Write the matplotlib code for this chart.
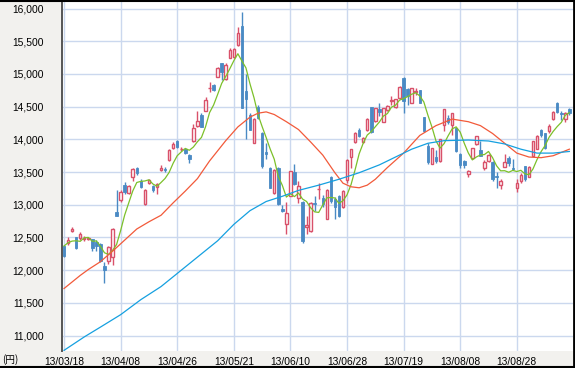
import matplotlib
matplotlib.use("Agg")
import matplotlib.pyplot as plt
from matplotlib.lines import Line2D

# ---------------- data ----------------
dates = [
    "13/03/18", "13/03/19", "13/03/21", "13/03/22", "13/03/25", "13/03/26", "13/03/27", "13/03/28", "13/03/29",
    "13/04/01", "13/04/02", "13/04/03", "13/04/04", "13/04/05", "13/04/08", "13/04/09", "13/04/10", "13/04/11",
    "13/04/12", "13/04/15", "13/04/16", "13/04/17", "13/04/18", "13/04/19", "13/04/22", "13/04/23", "13/04/24",
    "13/04/25", "13/04/26", "13/04/30", "13/05/01", "13/05/02", "13/05/07", "13/05/08", "13/05/09", "13/05/10",
    "13/05/13", "13/05/14", "13/05/15", "13/05/16", "13/05/17", "13/05/20", "13/05/21", "13/05/22", "13/05/23",
    "13/05/24", "13/05/27", "13/05/28", "13/05/29", "13/05/30", "13/05/31", "13/06/03", "13/06/04", "13/06/05",
    "13/06/06", "13/06/07", "13/06/10", "13/06/11", "13/06/12", "13/06/13", "13/06/14", "13/06/17", "13/06/18",
    "13/06/19", "13/06/20", "13/06/21", "13/06/24", "13/06/25", "13/06/26", "13/06/27", "13/06/28", "13/07/01",
    "13/07/02", "13/07/03", "13/07/04", "13/07/05", "13/07/08", "13/07/09", "13/07/10", "13/07/11", "13/07/12",
    "13/07/16", "13/07/17", "13/07/18", "13/07/19", "13/07/22", "13/07/23", "13/07/24", "13/07/25", "13/07/26",
    "13/07/29", "13/07/30", "13/07/31", "13/08/01", "13/08/02", "13/08/05", "13/08/06", "13/08/07", "13/08/08",
    "13/08/09", "13/08/12", "13/08/13", "13/08/14", "13/08/15", "13/08/16", "13/08/19", "13/08/20", "13/08/21",
    "13/08/22", "13/08/23", "13/08/26", "13/08/27", "13/08/28", "13/08/29", "13/08/30", "13/09/02", "13/09/03",
    "13/09/04", "13/09/05", "13/09/06", "13/09/09", "13/09/10", "13/09/11", "13/09/12", "13/09/13", "13/09/17",
]

opens = [
    12370, 12410, 12600, 12500, 12490, 12475, 12480, 12470, 12430, 12400, 12070, 12140, 12200, 12890, 13070,
    13310, 13180, 13430, 13560, 13360, 13015, 13330, 13280, 13270, 13530, 13545, 13680, 13870, 13975, 13850,
    13850, 13760, 13970, 14200, 14380, 14440, 14780, 14830, 14960, 15160, 14920, 15250, 15260, 15440, 15740,
    14740, 14370, 13950, 14490, 14090, 13810, 13560, 13180, 13560, 12940, 12710, 13140, 13500, 13100, 13050,
    12660, 12600, 13030, 13235, 13100, 12790, 13420, 13090, 13140, 12965, 13380, 13730, 13965, 14150, 13965,
    14146, 14490, 14283, 14470, 14273, 14453, 14590, 14490, 14634, 14933, 14763, 14557, 14730, 14747, 14335,
    13899, 13631, 13732, 13662, 14222, 14323, 14222, 14172, 13778, 13667, 13465, 13717, 13934, 13843, 13556,
    13667, 13652, 13435, 13310, 13580, 13712, 13560, 13250, 13364, 13590, 13424, 13747, 13860, 14146, 14095,
    14121, 14313, 14550, 14410, 14313, 14459,
]

highs = [
    12390, 12500, 12660, 12510, 12590, 12530, 12510, 12480, 12460, 12410, 12130, 12370, 12650, 13225, 13230,
    13350, 13300, 13560, 13580, 13400, 13240, 13400, 13300, 13330, 13610, 13570, 13850, 13960, 13990, 13880,
    13860, 13780, 14230, 14430, 14410, 14650, 14870, 14850, 15110, 15170, 15160, 15390, 15400, 15710, 15942,
    15000, 14400, 14320, 14530, 14110, 13950, 13570, 13540, 13580, 12990, 13050, 13520, 13620, 13360, 13060,
    12830, 13050, 13140, 13340, 13150, 13240, 13440, 13120, 13150, 13230, 13700, 13860, 14110, 14170, 14040,
    14330, 14500, 14480, 14557, 14480, 14520, 14660, 14620, 14820, 14953, 14780, 14790, 14778, 14760, 14340,
    13950, 13870, 13830, 14005, 14466, 14373, 14401, 14180, 13790, 13690, 13530, 13870, 14050, 13975, 13680,
    13770, 13665, 13495, 13390, 13780, 13750, 13700, 13390, 13480, 13600, 13590, 13980, 14060, 14160, 14100,
    14230, 14430, 14570, 14440, 14420, 14480,
]

lows = [
    12200, 12380, 12590, 12330, 12460, 12440, 12460, 12290, 12290, 12120, 11805, 12090, 12080, 12830, 13050,
    13160, 13170, 13370, 13460, 13250, 12990, 13320, 13190, 13170, 13520, 13500, 13670, 13860, 13870, 13820,
    13780, 13640, 13960, 14190, 14190, 14430, 14730, 14740, 14950, 14900, 14910, 15240, 15240, 15430, 14480,
    14000, 14140, 13950, 14310, 13560, 13700, 13250, 13170, 13000, 12890, 12548, 13130, 13300, 13020, 12415,
    12560, 12590, 12900, 13090, 12960, 12790, 13030, 12780, 12820, 12950, 13340, 13560, 13950, 14030, 13940,
    14130, 14100, 14270, 14350, 14260, 14440, 14530, 14480, 14620, 14402, 14520, 14550, 14675, 14550, 14110,
    13630, 13620, 13640, 13650, 14130, 14237, 14070, 13800, 13560, 13560, 13420, 13700, 13920, 13740, 13530,
    13660, 13370, 13258, 13240, 13570, 13590, 13530, 13188, 13340, 13360, 13420, 13740, 13850, 14030, 13850,
    14100, 14300, 14400, 14300, 14270, 14380,
]

closes = [
    12220, 12468, 12635, 12338, 12546, 12495, 12493, 12336, 12370, 12135, 12003, 12362, 12634, 12833, 13192,
    13192, 13288, 13549, 13485, 13275, 13221, 13382, 13220, 13316, 13568, 13529, 13843, 13926, 13884, 13860,
    13799, 13694, 14180, 14285, 14191, 14607, 14782, 14758, 15096, 15037, 15138, 15360, 15381, 15627, 14483,
    14612, 14142, 14311, 14326, 13589, 13774, 13261, 13533, 13014, 12904, 12877, 13514, 13317, 13289, 12445,
    12686, 13033, 13007, 13245, 13014, 13230, 13062, 12969, 12834, 13213, 13677, 13852, 14098, 14055, 14018,
    14309, 14109, 14472, 14416, 14472, 14506, 14599, 14615, 14808, 14589, 14658, 14778, 14731, 14562, 14129,
    13661, 13869, 13668, 14005, 14466, 14258, 14401, 13824, 13605, 13615, 13519, 13867, 14050, 13752, 13650,
    13758, 13397, 13424, 13366, 13660, 13636, 13542, 13338, 13459, 13389, 13573, 13979, 14054, 14065, 13861,
    14205, 14423, 14425, 14387, 14404, 14400,
]

# short moving average (green), one value per trading day
ma_short = [
    12370, 12420, 12445, 12450, 12441, 12496, 12501, 12442, 12448, 12366, 12267, 12241, 12301, 12393, 12605,
    12843, 13028, 13211, 13341, 13358, 13364, 13382, 13317, 13283, 13341, 13403, 13495, 13636, 13750, 13808,
    13862, 13833, 13883, 13964, 14030, 14191, 14409, 14525, 14687, 14856, 14962, 15078, 15202, 15309, 15198,
    15093, 14849, 14635, 14375, 14196, 14028, 13852, 13697, 13434, 13297, 13118, 13168, 13125, 13180, 13088,
    13050, 12954, 12892, 12883, 12997, 13106, 13112, 13104, 13022, 13062, 13151, 13309, 13535, 13779, 13940,
    14066, 14118, 14193, 14265, 14356, 14395, 14493, 14522, 14600, 14623, 14654, 14690, 14713, 14664, 14572,
    14372, 14190, 13978, 13866, 13934, 14053, 14160, 14191, 14111, 13941, 13793, 13686, 13731, 13761, 13768,
    13815, 13721, 13596, 13519, 13521, 13497, 13526, 13508, 13527, 13473, 13460, 13548, 13691, 13812, 13906,
    14033, 14122, 14196, 14260, 14369, 14408,
]

# medium moving average (red), read at selected days
ma_mid_dates = [
    "13/03/18", "13/03/21", "13/03/25", "13/03/27", "13/04/01", "13/04/04", "13/04/09", "13/04/12", "13/04/17",
    "13/04/22", "13/04/25", "13/05/01", "13/05/08", "13/05/13", "13/05/17", "13/05/22", "13/05/27", "13/05/29",
    "13/05/31", "13/06/04", "13/06/07", "13/06/12", "13/06/17", "13/06/20", "13/06/25", "13/06/27", "13/07/01",
    "13/07/03", "13/07/05", "13/07/09", "13/07/12", "13/07/19", "13/07/25", "13/07/31", "13/08/06", "13/08/12",
    "13/08/15", "13/08/20", "13/08/23", "13/08/28", "13/09/02", "13/09/05", "13/09/10", "13/09/17",
]
ma_mid = [
    11720, 11820, 11920, 12010, 12130, 12290, 12460, 12630, 12740,
    12840, 13030, 13210, 13400, 13670, 13980, 14190, 14340, 14400,
    14420, 14380, 14270, 14150, 13960, 13760, 13490, 13330, 13275,
    13260, 13300, 13390, 13570, 13790, 14060, 14210, 14310, 14270,
    14210, 14090, 13940, 13790, 13730, 13720, 13750, 13850,
]

# long moving average (blue), read at selected days
ma_long_dates = [
    "13/03/18", "13/03/26", "13/04/01", "13/04/08", "13/04/15", "13/04/22", "13/04/30", "13/05/09", "13/05/15",
    "13/05/21", "13/05/27", "13/05/31", "13/06/06", "13/06/12", "13/06/19", "13/06/26", "13/07/03", "13/07/10",
    "13/07/17", "13/07/23", "13/07/29", "13/08/02", "13/08/12", "13/08/19", "13/08/23", "13/08/29", "13/09/04",
    "13/09/10", "13/09/17",
]
ma_long = [
    10775, 10980, 11130, 11320, 11550, 11750, 12000, 12250, 12450,
    12700, 12910, 13050, 13130, 13220, 13300, 13390, 13490, 13610,
    13730, 13850, 13940, 13980, 13990, 13975, 13930, 13850, 13790,
    13790, 13815,
]

tick_dates = ["13/03/18", "13/04/08", "13/04/26", "13/05/21", "13/06/10",
              "13/06/28", "13/07/19", "13/08/08", "13/08/28"]
y_ticks = [11000, 11500, 12000, 12500, 13000, 13500, 14000, 14500, 15000, 15500, 16000]

# ---------------- style ----------------
UP = "#d9516a"
DOWN = "#4a8ac4"
C_SHORT = "#7cc02a"
C_MID = "#f25a3a"
C_LONG = "#15a0e0"
GRID = "#cbd8ee"
BG = "#f2f1ee"

fig = plt.figure(figsize=(5.75, 3.68), dpi=100, facecolor=BG)
W, H = 575.0, 368.0
ax = fig.add_axes([62 / W, 17 / H, (573 - 62) / W, (367 - 17) / H])
ax.set_facecolor("white")

pos = {d: i for i, d in enumerate(dates)}
xs = list(range(len(dates)))

# wicks
up_idx = [i for i in xs if closes[i] >= opens[i]]
dn_idx = [i for i in xs if closes[i] < opens[i]]
ax.vlines(up_idx, [lows[i] for i in up_idx], [highs[i] for i in up_idx],
          color=UP, lw=1.0, zorder=2)
ax.vlines(dn_idx, [lows[i] for i in dn_idx], [highs[i] for i in dn_idx],
          color=DOWN, lw=1.0, zorder=2)

# bodies
bw = 0.62
ax.bar(up_idx, [max(closes[i] - opens[i], 8) for i in up_idx],
       bottom=[opens[i] for i in up_idx], width=bw,
       facecolor="white", edgecolor=UP, linewidth=1.0, zorder=3)
ax.bar(dn_idx, [opens[i] - closes[i] for i in dn_idx],
       bottom=[closes[i] for i in dn_idx], width=bw,
       facecolor=DOWN, edgecolor=DOWN, linewidth=0.6, zorder=3)

# moving averages
ax.plot(xs, ma_short, color=C_SHORT, lw=0.9, zorder=4)
ax.plot([pos[d] for d in ma_mid_dates], ma_mid, color=C_MID, lw=0.9, zorder=4)
ax.plot([pos[d] for d in ma_long_dates], ma_long, color=C_LONG, lw=0.9, zorder=4)

# axes
ax.set_xlim(-0.5, 125.9)
ax.set_ylim(10765, 16115)
ax.set_xticks([pos[d] for d in tick_dates])
ax.set_xticklabels(tick_dates)
ax.set_yticks(y_ticks)
ax.set_yticklabels([f"{v:,}" for v in y_ticks])
ax.grid(True, color=GRID, lw=1.0)
ax.set_axisbelow(True)
ax.tick_params(axis="both", length=0, labelsize=7.4, colors="black")
ax.tick_params(axis="y", pad=13)
ax.tick_params(axis="x", pad=4)
for lab in ax.get_xticklabels() + ax.get_yticklabels():
    lab.set_fontfamily("Liberation Sans")
for s in ["top", "right", "bottom"]:
    ax.spines[s].set_visible(False)
ax.spines["left"].set_color("#555555")
ax.spines["left"].set_linewidth(1.4)

# outer frame (top, right, bottom)
fig.add_artist(Line2D([0, 1], [1 - 0.5 / H, 1 - 0.5 / H], transform=fig.transFigure, color="black", lw=1.5))
fig.add_artist(Line2D([1 - 1 / W, 1 - 1 / W], [0, 1], transform=fig.transFigure, color="black", lw=2.0))
fig.add_artist(Line2D([0, 1], [1 / H, 1 / H], transform=fig.transFigure, color="black", lw=1.5))

fig.text(2 / W, 1 - 360 / H, "(円)", fontsize=7, va="center", ha="left",
         family=["Noto Sans CJK JP", "DejaVu Sans"])

fig.savefig("out.png", dpi=100, facecolor=BG)
